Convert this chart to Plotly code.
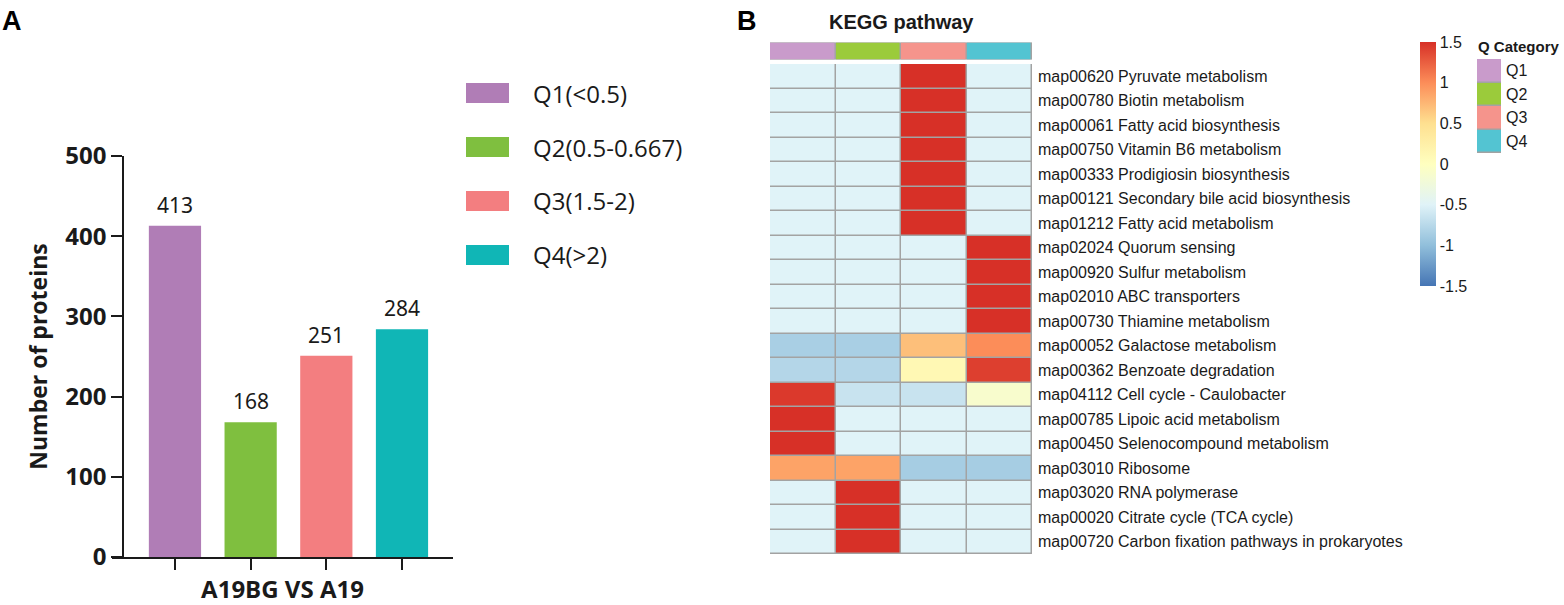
import plotly.graph_objects as go

W, H = 1564, 605

# ---- panel A data
categories = ["Q1(<0.5)", "Q2(0.5-0.667)", "Q3(1.5-2)", "Q4(>2)"]
counts = [413, 168, 251, 284]
bar_colors = ["#B07DB6", "#7FBF3F", "#F37E80", "#10B6B6"]
y_ticks = [0, 100, 200, 300, 400, 500]

# ---- panel B data
q_names = ["Q1", "Q2", "Q3", "Q4"]
q_colors = ["#C99BCB", "#9BCB3B", "#F5948C", "#53C4D2"]
pathways = [
    "map00620 Pyruvate metabolism",
    "map00780 Biotin metabolism",
    "map00061 Fatty acid biosynthesis",
    "map00750 Vitamin B6 metabolism",
    "map00333 Prodigiosin biosynthesis",
    "map00121 Secondary bile acid biosynthesis",
    "map01212 Fatty acid metabolism",
    "map02024 Quorum sensing",
    "map00920 Sulfur metabolism",
    "map02010 ABC transporters",
    "map00730 Thiamine metabolism",
    "map00052 Galactose metabolism",
    "map00362 Benzoate degradation",
    "map04112 Cell cycle - Caulobacter",
    "map00785 Lipoic acid metabolism",
    "map00450 Selenocompound metabolism",
    "map03010 Ribosome",
    "map03020 RNA polymerase",
    "map00020 Citrate cycle (TCA cycle)",
    "map00720 Carbon fixation pathways in prokaryotes",
]
# row-scaled values (Q1, Q2, Q3, Q4)
zscores = [
    [-0.5, -0.5, 1.5, -0.5],
    [-0.5, -0.5, 1.5, -0.5],
    [-0.5, -0.5, 1.5, -0.5],
    [-0.5, -0.5, 1.5, -0.5],
    [-0.5, -0.5, 1.5, -0.5],
    [-0.5, -0.5, 1.5, -0.5],
    [-0.5, -0.5, 1.5, -0.5],
    [-0.5, -0.5, -0.5, 1.5],
    [-0.5, -0.5, -0.5, 1.5],
    [-0.5, -0.5, -0.5, 1.5],
    [-0.5, -0.5, -0.5, 1.5],
    [-0.85, -0.85, 0.7, 1.0],
    [-0.78, -0.78, 0.12, 1.42],
    [1.45, -0.65, -0.65, -0.12],
    [1.5, -0.5, -0.5, -0.5],
    [1.5, -0.5, -0.5, -0.5],
    [0.87, 0.87, -0.87, -0.87],
    [-0.5, 1.5, -0.5, -0.5],
    [-0.5, 1.5, -0.5, -0.5],
    [-0.5, 1.5, -0.5, -0.5],
]
heat_ticks = [-1.5, -1, -0.5, 0, 0.5, 1, 1.5]

rdylbu = ["#4575B4", "#91BFDB", "#E0F3F8", "#FFFFBF", "#FEE090", "#FC8D59", "#D73027"]
heat_scale = [[i / (len(rdylbu) - 1), c] for i, c in enumerate(rdylbu)]
q_scale = [[i / (len(q_colors) - 1), c] for i, c in enumerate(q_colors)]

GRID = "#A3A3A3"
TXT = "#1a1a1a"


def px_x(v):
    return v / W


def px_y(v):
    return 1 - v / H


fig = go.Figure()

# ---------- A: bar chart
xs = list(range(len(categories)))
fig.add_trace(go.Bar(
    x=xs, y=counts, marker=dict(color=bar_colors, line=dict(width=0)),
    width=0.69, showlegend=False, hoverinfo="y",
    xaxis="x", yaxis="y",
))
for x, v in zip(xs, counts):
    fig.add_annotation(x=x, y=v, xref="x", yref="y", text=str(v), showarrow=False,
                       yanchor="bottom", yshift=5,
                       font=dict(family="Noto Sans", size=21, color=TXT))

# custom big legend for panel A
for i, (name, col) in enumerate(zip(categories, bar_colors)):
    yc = 93 + i * 54
    fig.add_shape(type="rect", xref="paper", yref="paper",
                  x0=px_x(466), x1=px_x(509), y0=px_y(yc + 10), y1=px_y(yc - 10),
                  fillcolor=col, line=dict(width=0))
    fig.add_annotation(xref="paper", yref="paper", x=px_x(531), y=px_y(yc), text=name,
                       showarrow=False, xanchor="left", yanchor="middle",
                       font=dict(family="Open Sans", size=24, color=TXT))

# ---------- B: main heatmap
n_rows, n_cols = len(pathways), len(q_names)
fig.add_shape(type="rect", xref="x2", yref="y2", layer="below",
              x0=-0.5, x1=n_cols - 0.5, y0=-0.5, y1=n_rows - 0.5,
              fillcolor=GRID, line=dict(color=GRID, width=1.5))
fig.add_trace(go.Heatmap(
    z=zscores, x=list(range(n_cols)), y=list(range(n_rows)),
    colorscale=heat_scale, zmin=-1.5, zmax=1.5, xgap=1.5, ygap=1.5,
    xaxis="x2", yaxis="y2",
    colorbar=dict(
        x=px_x(1420), xanchor="left", xpad=0, thickness=16, thicknessmode="pixels",
        y=px_y(42), yanchor="top", ypad=0, len=244, lenmode="pixels",
        outlinewidth=0, ticks="", tickvals=heat_ticks,
        ticktext=[f"{t:g}" for t in heat_ticks],
        tickfont=dict(family="Liberation Sans", size=16, color=TXT),
    ),
))

# annotation strip on top
fig.add_shape(type="rect", xref="x3", yref="y3", layer="below",
              x0=-0.5, x1=n_cols - 0.5, y0=-0.5, y1=0.5,
              fillcolor=GRID, line=dict(color=GRID, width=1.5))
fig.add_trace(go.Heatmap(
    z=[list(range(n_cols))], x=list(range(n_cols)), y=[0],
    colorscale=q_scale, zmin=0, zmax=n_cols - 1, showscale=False,
    xgap=1.5, ygap=0, xaxis="x3", yaxis="y3", text=[q_names], hoverinfo="text",
))

# Q category legend
fig.add_shape(type="rect", xref="x4", yref="y4", layer="below",
              x0=-0.5, x1=0.5, y0=-0.5, y1=n_cols - 0.5,
              fillcolor=GRID, line=dict(color=GRID, width=1.5))
fig.add_trace(go.Heatmap(
    z=[[i] for i in range(n_cols)], x=[0], y=list(range(n_cols)),
    colorscale=q_scale, zmin=0, zmax=n_cols - 1, showscale=False,
    xgap=0, ygap=1.5, xaxis="x4", yaxis="y4",
))
fig.add_annotation(xref="paper", yref="paper", x=px_x(1476), y=px_y(47), text="<b>Q Category</b>",
                   showarrow=False, xanchor="left", yanchor="middle",
                   font=dict(family="Liberation Sans", size=15, color=TXT))

# titles / panel letters
fig.add_annotation(xref="paper", yref="paper", x=px_x(901), y=px_y(22), text="<b>KEGG pathway</b>",
                   showarrow=False, xanchor="center", yanchor="middle",
                   font=dict(family="Liberation Sans", size=20, color=TXT))
fig.add_annotation(xref="paper", yref="paper", x=px_x(0), y=px_y(21), text="<b>A</b>",
                   showarrow=False, xanchor="left", yanchor="middle",
                   font=dict(family="Liberation Sans", size=27, color="black"))
fig.add_annotation(xref="paper", yref="paper", x=px_x(735), y=px_y(21), text="<b>B</b>",
                   showarrow=False, xanchor="left", yanchor="middle",
                   font=dict(family="Liberation Sans", size=27, color="black"))

bold_tick = dict(family="Open Sans", size=24, color=TXT, weight="bold")
bold_title = dict(family="Open Sans", size=23, color=TXT, weight="bold")
hidden = dict(showticklabels=False, showgrid=False, zeroline=False, ticks="", automargin=False)

fig.update_layout(
    width=W, height=H, margin=dict(l=0, r=0, t=0, b=0, autoexpand=False),
    paper_bgcolor="white", plot_bgcolor="white", showlegend=False,
    xaxis=dict(
        domain=[px_x(112), px_x(453)], range=[-0.832, 3.674], automargin=False,
        tickvals=xs, ticktext=["" for _ in xs], ticks="outside", ticklen=11,
        tickwidth=1.5, tickcolor=TXT, showline=True, linecolor=TXT, linewidth=1.5,
        showgrid=False, zeroline=False,
        title=dict(text="A19BG VS A19", font=dict(bold_title, size=24), standoff=16),
    ),
    yaxis=dict(
        domain=[px_y(557), px_y(156)], range=[0, 500], anchor="free", position=px_x(123),
        automargin=False,
        tickvals=y_ticks, ticks="outside", ticklen=11, tickwidth=1.5,
        tickcolor=TXT, showline=True, linecolor=TXT, linewidth=1.5, showgrid=False,
        zeroline=False, tickfont=bold_tick,
        title=dict(text="Number of proteins", font=bold_title, standoff=10),
    ),
    xaxis2=dict(domain=[px_x(770), px_x(1032)], range=[-0.5, n_cols - 0.5], anchor="y2", **hidden),
    yaxis2=dict(domain=[px_y(554), px_y(64)], range=[n_rows - 0.5, -0.5], anchor="x2",
                side="right", tickvals=list(range(n_rows)), ticktext=pathways,
                tickfont=dict(family="Liberation Sans", size=16, color=TXT), automargin=False,
                ticks="", ticklabelstandoff=5, showgrid=False, zeroline=False),
    xaxis3=dict(domain=[px_x(770), px_x(1032)], range=[-0.5, n_cols - 0.5], anchor="y3", **hidden),
    yaxis3=dict(domain=[px_y(59.5), px_y(42.5)], range=[-0.5, 0.5], anchor="x3", **hidden),
    xaxis4=dict(domain=[px_x(1477), px_x(1501)], range=[-0.5, 0.5], anchor="y4", **hidden),
    yaxis4=dict(domain=[px_y(153), px_y(59)], range=[n_cols - 0.5, -0.5], anchor="x4",
                side="right", tickvals=list(range(n_cols)), ticktext=q_names,
                tickfont=dict(family="Liberation Sans", size=16, color=TXT), automargin=False,
                ticks="", ticklabelstandoff=4, showgrid=False, zeroline=False),
)

# drop the default page margin so the figure sits at the window origin
fig.write_html("out.html", config={"displayModeBar": False},
               post_script="document.body.style.margin='0';")
